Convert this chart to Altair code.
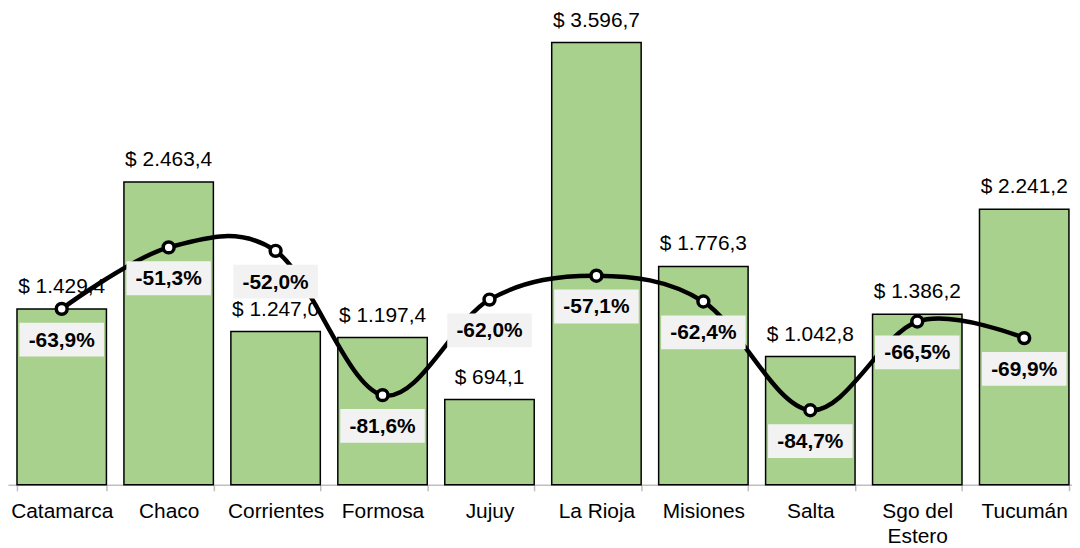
import altair as alt
import pandas as pd

provinces = ["Catamarca", "Chaco", "Corrientes", "Formosa", "Jujuy", "La Rioja",
             "Misiones", "Salta", "Sgo del Estero", "Tucumán"]
amounts = [1429.4, 2463.4, 1247.0, 1197.4, 694.1, 3596.7, 1776.3, 1042.8, 1386.2, 2241.2]
amount_labels = ["$ 1.429,4", "$ 2.463,4", "$ 1.247,0", "$ 1.197,4", "$ 694,1",
                 "$ 3.596,7", "$ 1.776,3", "$ 1.042,8", "$ 1.386,2", "$ 2.241,2"]
pcts = [-63.9, -51.3, -52.0, -81.6, -62.0, -57.1, -62.4, -84.7, -66.5, -69.9]
pct_labels = ["-63,9%", "-51,3%", "-52,0%", "-81,6%", "-62,0%", "-57,1%",
              "-62,4%", "-84,7%", "-66,5%", "-69,9%"]

df = pd.DataFrame({
    "prov": provinces, "amount": amounts, "amount_label": amount_labels,
    "pct": pcts, "pct_label": pct_labels,
})

FONT = "Liberation Sans"

x = alt.X("prov:N", sort=provinces, title=None,
          scale=alt.Scale(paddingInner=0.1636, paddingOuter=0.0563, align=0.746),
          axis=alt.Axis(labelAngle=0, labelFont=FONT, labelFontSize=21, labelColor="#000000",
                        labelPadding=10, tickBand="extent", tickSize=6, tickColor="#BFBFBF",
                        tickWidth=1.5, domainColor="#BFBFBF", domainWidth=1.5,
                        labelLineHeight=25,
                        labelExpr="datum.value == 'Sgo del Estero' ? ['Sgo del', 'Estero'] : datum.value"))

yA = alt.Y("amount:Q", scale=alt.Scale(domain=[0, 3865], nice=False), axis=None)
yP = alt.Y("pct:Q", scale=alt.Scale(domain=[-100, -2.5], nice=False), axis=None)

base = alt.Chart(df)

bars = base.mark_bar(color="#A9D18E", stroke="#000000", strokeWidth=1.5).encode(x=x, y=yA)
bar_text = base.mark_text(font=FONT, fontSize=21, color="#000000", baseline="alphabetic",
                          dy=-16).encode(x=x, y=yA, text="amount_label:N")

bars_layer = alt.layer(bars, bar_text)

line = base.mark_line(color="#000000", strokeWidth=4.5, interpolate="cardinal").encode(x=x, y=yP)
pts = base.mark_point(filled=True, fill="#FFFFFF", stroke="#000000", strokeWidth=3.5,
                      size=120, opacity=1).encode(x=x, y=yP)
boxes = base.mark_point(shape="M-1.25,-0.5H1.25V0.5H-1.25Z", filled=True, fill="#F2F2F2",
                        strokeWidth=0, size=4624, opacity=1, yOffset=31).encode(x=x, y=yP)
pct_text = base.mark_text(font=FONT, fontSize=21, fontWeight="bold", color="#000000",
                          baseline="middle", dy=32).encode(x=x, y=yP, text="pct_label:N")

line_layer = alt.layer(line, pts, boxes, pct_text)

chart = alt.layer(bars_layer, line_layer).resolve_scale(y="independent").properties(
    width=1070, height=478,
    autosize=alt.AutoSizeParams(type="none"),
    padding={"left": 0, "top": 0, "right": 0, "bottom": 62}
).configure_view(stroke=None)

chart.save("out.html", embed_options={"renderer": "svg", "actions": False})
